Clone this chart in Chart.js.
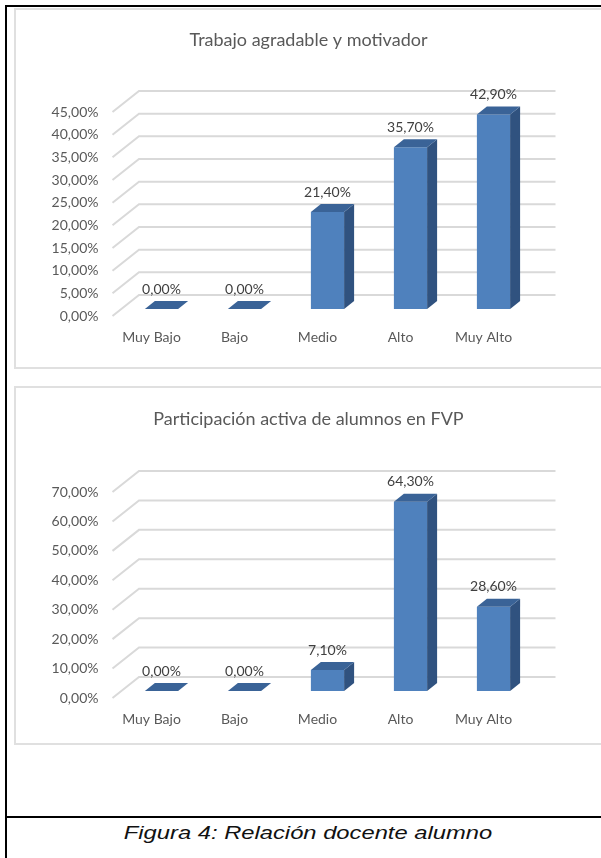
<!DOCTYPE html>
<html>
<head>
<meta charset="utf-8">
<script src="https://cdn.jsdelivr.net/npm/chart.js@4"></script>
<style>
  body { margin: 0; width: 601px; height: 858px; overflow: hidden; background: #fff; position: relative; }
  .frame { position: absolute; left: 5px; top: 5px; width: 700px; height: 900px; border-left: 2px solid #000; border-top: 2px solid #000; }
  .rule { position: absolute; left: 5px; top: 816px; width: 700px; height: 2px; background: #000; }
  .box { position: absolute; left: 14px; width: 700px; border: 2px solid #e0e0e0; box-sizing: border-box; }
  canvas { position: absolute; left: 7.5px; }
  .caption { position: absolute; left: 0; width: 616px; top: 820px; text-align: center;
    font-family: "Liberation Sans", Arial, sans-serif; font-style: italic; font-size: 19px; line-height: 26px;
    color: #111; transform: scaleX(1.25); transform-origin: 308px 0; }
</style>
</head>
<body>
<div class="frame"></div>
<div class="box" style="top:8px;height:361px"></div>
<div class="box" style="top:386px;height:359px"></div>
<canvas id="chart1" width="601" height="378" style="top:0"></canvas>
<canvas id="chart2" width="601" height="380" style="top:378px"></canvas>
<div class="rule"></div>
<div class="caption">Figura 4: Relación docente alumno</div>
<script>
// datos
const categories = ['Muy Bajo', 'Bajo', 'Medio', 'Alto', 'Muy Alto'];
const trabajoValues = [0, 0, 21.4, 35.7, 42.9];
const participacionValues = [0, 0, 7.1, 64.3, 28.6];

const fmt = v => v.toFixed(2).replace('.', ',') + '%';

Chart.defaults.font.family = 'Lato';
Chart.defaults.color = '#595959';

// caras laterales y superiores + rejilla 3D
const bar3d = {
  id: 'bar3d',
  beforeDatasetsDraw(chart) {
    const ctx = chart.ctx, area = chart.chartArea, ys = chart.scales.y;
    ctx.save();
    ctx.strokeStyle = '#d9d9d9';
    ctx.lineWidth = 2;
    ys.ticks.forEach(t => {
      const y = ys.getPixelForValue(t.value);
      ctx.beginPath();
      ctx.moveTo(area.left - 7.5, y + 7);
      ctx.lineTo(area.left + 19, y - 14);
      ctx.lineTo(area.right + 20.5, y - 14);
      ctx.stroke();
    });
    ctx.restore();
  },
  afterDatasetsDraw(chart) {
    const ctx = chart.ctx;
    const meta = chart.getDatasetMeta(0);
    const values = chart.data.datasets[0].data;
    const dx = 10, dy = 8;
    ctx.save();
    meta.data.forEach((bar, i) => {
      const p = bar.getProps(['x', 'y', 'base', 'width'], true);
      const x0 = p.x - p.width / 2, x1 = p.x + p.width / 2;
      ctx.fillStyle = '#30527f';
      ctx.beginPath();
      ctx.moveTo(x1, p.y); ctx.lineTo(x1 + dx, p.y - dy);
      ctx.lineTo(x1 + dx, p.base - dy); ctx.lineTo(x1, p.base);
      ctx.closePath(); ctx.fill();
      ctx.fillStyle = '#3a6397';
      ctx.beginPath();
      ctx.moveTo(x0, p.y); ctx.lineTo(x1, p.y);
      ctx.lineTo(x1 + dx, p.y - dy); ctx.lineTo(x0 + dx, p.y - dy);
      ctx.closePath(); ctx.fill();
      ctx.fillStyle = '#404040';
      ctx.font = '14px Lato';
      ctx.textAlign = 'center';
      ctx.textBaseline = 'middle';
      ctx.fillText(fmt(values[i]), p.x, p.y - 20);
    });
    ctx.restore();
  }
};

function makeChart(id, title, values, max, step, g) {
  return new Chart(document.getElementById(id), {
    type: 'bar',
    data: {
      labels: categories,
      datasets: [{
        data: values,
        backgroundColor: '#4f81bd',
        borderWidth: 0,
        barPercentage: 0.4,
        categoryPercentage: 1
      }]
    },
    options: {
      responsive: false,
      animation: false,
      layout: { padding: 0 },
      plugins: {
        legend: { display: false },
        tooltip: { enabled: false },
        title: {
          display: true,
          text: title,
          color: '#595959',
          font: { size: 18, weight: 'normal' },
          padding: { top: g.titleTop, bottom: g.titleBottom }
        }
      },
      scales: {
        x: {
          grid: { display: false, drawTicks: false },
          border: { display: false },
          ticks: { padding: 20, labelOffset: -10, font: { size: 14 }, color: '#595959' },
          afterFit: s => { s.height = g.xHeight; }
        },
        y: {
          min: 0,
          max: max,
          grid: { display: false, drawTicks: false },
          border: { display: false },
          ticks: { stepSize: step, padding: 21.5, labelOffset: 7, font: { size: 14 }, color: '#595959',
            callback: v => fmt(v) },
          afterFit: s => { s.width = 112; }
        },
        // eje vacio a la derecha: deja sitio sin descentrar el titulo
        yRight: {
          axis: 'y',
          position: 'right',
          grid: { display: false, drawTicks: false },
          border: { display: false },
          ticks: { display: false },
          afterFit: s => { s.width = 74; }
        }
      }
    },
    plugins: [bar3d]
  });
}

makeChart('chart1', 'Trabajo agradable y motivador', trabajoValues, 45, 5,
  { titleTop: 29.2, titleBottom: 54.2, xHeight: 69 });
makeChart('chart2', 'Participación activa de alumnos en FVP', participacionValues, 70, 10,
  { titleTop: 30.2, titleBottom: 55.2, xHeight: 67 });
</script>
</body>
</html>
